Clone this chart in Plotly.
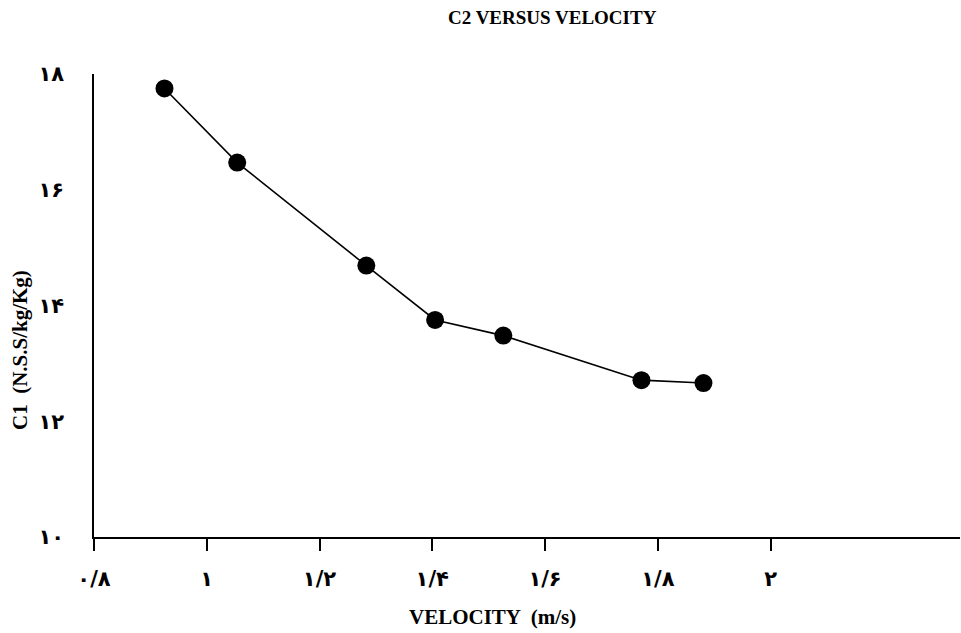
import plotly.graph_objects as go

velocity = [0.925, 1.054, 1.283, 1.405, 1.526, 1.771, 1.881]
c1 = [17.75, 16.47, 14.69, 13.75, 13.48, 12.71, 12.66]

x_tickvals = [0.8, 1.0, 1.2, 1.4, 1.6, 1.8, 2.0]
x_ticktext = ["۰/۸", "۱", "۱/۲", "۱/۴", "۱/۶", "۱/۸", "۲"]
y_tickvals = [10, 12, 14, 16, 18]
y_ticktext = ["۱۰", "۱۲", "۱۴", "۱۶", "۱۸"]

fig = go.Figure()
fig.add_trace(go.Scatter(
    x=velocity, y=c1, mode="lines+markers",
    line=dict(color="black", width=1.6),
    marker=dict(color="black", size=18),
    showlegend=False,
))

serif = "Liberation Serif"
tickfont = dict(family="DejaVu Sans", size=21, color="black", weight="bold")
fig.update_layout(
    width=961, height=633,
    margin=dict(l=94, r=1, t=74, b=96),
    paper_bgcolor="white", plot_bgcolor="white",
    xaxis=dict(
        range=[0.8, 2.336], tickvals=x_tickvals, ticktext=x_ticktext,
        showgrid=False, zeroline=False, showline=True, linecolor="black", linewidth=1.5,
        ticks="outside", ticklen=12, tickwidth=1.5, tickcolor="black",
        tickfont=tickfont,
        ticklabelstandoff=10,
    ),
    yaxis=dict(
        range=[10, 18], tickvals=y_tickvals, ticktext=y_ticktext,
        showgrid=False, zeroline=False, showline=True, linecolor="black", linewidth=1.5,
        ticks="",
        tickfont=tickfont,
        ticklabelstandoff=24,
    ),
    annotations=[
        dict(text="<b>C2 VERSUS VELOCITY</b>", xref="paper", yref="paper",
             x=(552 - 94) / 866, y=1 + (74 - 17) / 463, showarrow=False,
             font=dict(family=serif, size=19, color="black"), xanchor="center", yanchor="middle"),
        dict(text="<b>VELOCITY  (m/s)</b>", xref="paper", yref="paper",
             x=(492 - 94) / 866, y=-(617 - 537) / 463, showarrow=False,
             font=dict(family=serif, size=21, color="black"), xanchor="center", yanchor="middle"),
        dict(text="<b>C1  (N.S.S/kg/Kg)</b>", xref="paper", yref="paper",
             x=-(94 - 20) / 866, y=(537 - 350) / 463, showarrow=False, textangle=-90,
             font=dict(family=serif, size=21, color="black"), xanchor="center", yanchor="middle"),
    ],
)

fig.write_html("out.html")
